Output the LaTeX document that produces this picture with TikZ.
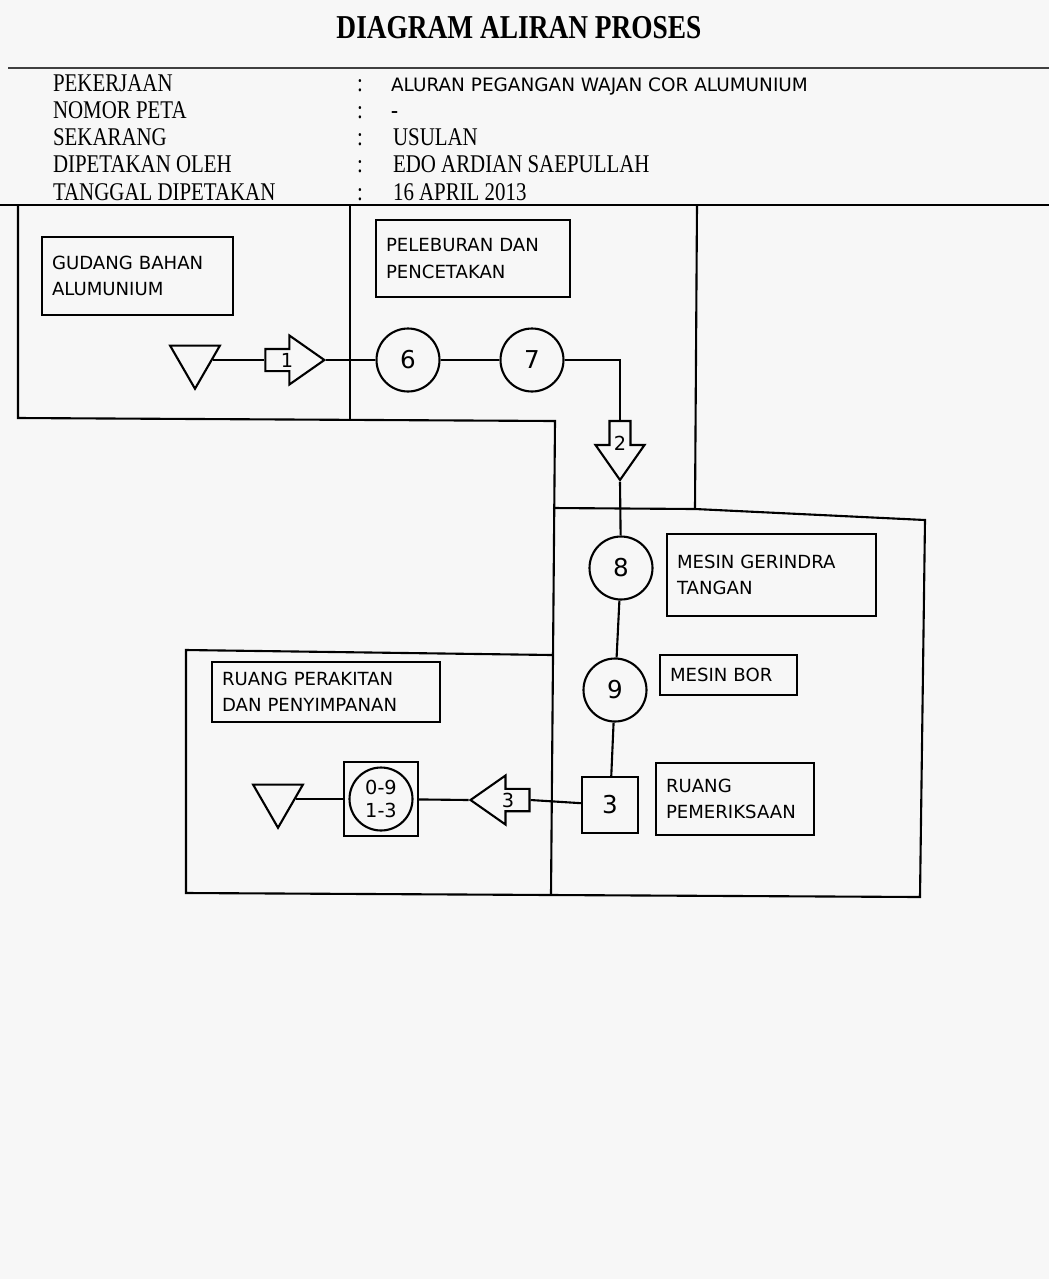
\documentclass[tikz,border=0pt]{standalone}
\usepackage{fontspec}
\setmainfont{Liberation Serif}
\newfontfamily\judulfont[FakeStretch=0.82]{Liberation Serif}
\newfontfamily\tanganfont{DejaVu Sans}
\usetikzlibrary{positioning,shapes.geometric,shapes.arrows}

\tikzset{
  kepala/.style={inner sep=0pt, font=\judulfont\fontsize{14.5}{16}\selectfont},
  tangan/.style={inner sep=0pt, font=\tanganfont\fontsize{10.5}{12}\selectfont},
  ket/.style={draw, rectangle, align=left, inner sep=0.2cm, font=\tanganfont\fontsize{10.3}{15}\selectfont},
  operasi/.style={draw, circle, inner sep=0pt, minimum size=1.26cm, font=\tanganfont\fontsize{14}{14}\selectfont},
  simpan/.style={draw, regular polygon, regular polygon sides=3, shape border rotate=180, minimum size=1.15cm, inner sep=0pt},
  angkut/.style={draw, single arrow, minimum height=1.18cm, minimum width=0.98cm, single arrow head extend=0.24cm, single arrow tip angle=70, inner sep=1pt, font=\tanganfont\fontsize{11}{11}\selectfont},
  periksa/.style={draw, rectangle, minimum size=1.12cm, inner sep=0pt, font=\tanganfont\fontsize{14}{14}\selectfont}
}

\begin{document}
\begin{tikzpicture}[x=0.02cm, y=-0.02cm, line width=1.2pt]
  % Latar
  \fill[black!3] (0,0) rectangle (1049,1279);
  \useasboundingbox (0,0) rectangle (1049,1279);

  % Judul
  \node[font=\judulfont\bfseries\fontsize{19}{22}\selectfont] (judul) at (519,28) {DIAGRAM ALIRAN PROSES};
  \draw[line width=0.8pt, black!75] (8,68) -- (1049,68);

  % Keterangan
  \foreach \nama/\teks/\y in {pek/PEKERJAAN/91, nom/NOMOR PETA/118, sek/SEKARANG/145, dip/DIPETAKAN OLEH/172, tgl/TANGGAL DIPETAKAN/200} {
    \node[kepala, anchor=base west] (\nama) at (52,\y) {\teks};
    \node[kepala, anchor=base] (\nama-titik) at (360,\y) {:};
  }
  \node[tangan, anchor=base west] (isi-pek) at (390,91) {ALURAN PEGANGAN WAJAN COR ALUMUNIUM};
  \node[kepala, anchor=base west] (isi-nom) at (390,118) {-};
  \node[kepala, anchor=base west] (isi-sek) at (392,145) {USULAN};
  \node[kepala, anchor=base west] (isi-dip) at (392,172) {EDO ARDIAN SAEPULLAH};
  \node[kepala, anchor=base west] (isi-tgl) at (392,200) {16 APRIL 2013};

  % Area kerja
  \draw (0,205) -- (1049,205);
  \draw (18,205) -- (18,418) -- (555,421) -- (551,895);
  \draw (350,205) -- (350,419);
  \draw (697,205) -- (695,509);
  \draw (553,508) -- (695,509) -- (925,520) -- (920,897) -- (551,895) -- (186,893) -- (186,650) -- (552,655);

  % Keterangan tempat
  \node[ket, minimum width=3.82cm, minimum height=1.56cm, text width=3.42cm] (gudang) at (137.5,276) {GUDANG BAHAN\\ALUMUNIUM};
  \node[ket, minimum width=3.88cm, minimum height=1.54cm, text width=3.48cm] (lebur) at (473,258.5) {PELEBURAN DAN\\PENCETAKAN};
  \node[ket, minimum width=4.18cm, minimum height=1.64cm, text width=3.78cm] (gerinda) at (771.5,575) {MESIN GERINDRA\\TANGAN};
  \node[ket, minimum width=2.74cm, minimum height=0.8cm, text width=2.34cm] (bor) at (728.5,675) {MESIN BOR};
  \node[ket, minimum width=3.16cm, minimum height=1.44cm, text width=2.76cm] (ruang-periksa) at (735,799) {RUANG\\PEMERIKSAAN};
  \node[ket, minimum width=4.56cm, minimum height=1.18cm, text width=4.16cm] (rakit) at (326,692) {RUANG PERAKITAN\\DAN PENYIMPANAN};

  % Simbol proses
  \node[simpan] (bahan) at (195,360) {};
  \node[angkut] (a1) at (287,360) {1};
  \node[operasi] (op6) at (408,360) {6};
  \node[operasi] (op7) at (532,360) {7};
  \node[angkut, shape border rotate=270] (a2) at (620,443) {2};
  \node[operasi] (op8) at (621,568) {8};
  \node[operasi] (op9) at (615,690) {9};
  \node[periksa] (pr3) at (610,805) {3};
  \node[angkut, shape border rotate=180] (a3) at (508,800) {3};
  \node[draw, rectangle, minimum size=1.48cm, inner sep=0pt] (gab) at (381,799) {};
  \node[operasi, align=center, font=\tanganfont\fontsize{11}{13}\selectfont] (gab-op) at (381,799) {0-9\\1-3};
  \node[simpan] (jadi) at (278,799) {};

  % Aliran
  \draw (bahan) -- (a1.tail);
  \draw (a1.tip) -- (op6);
  \draw (op6) -- (op7);
  \draw (op7) -| (a2.tail);
  \draw (a2.tip) -- (op8);
  \draw (op8) -- (op9);
  \draw (op9) -- (pr3);
  \draw (pr3) -- (a3.tail);
  \draw (a3.tip) -- (gab);
  \draw (gab) -- (jadi);
\end{tikzpicture}
\end{document}
